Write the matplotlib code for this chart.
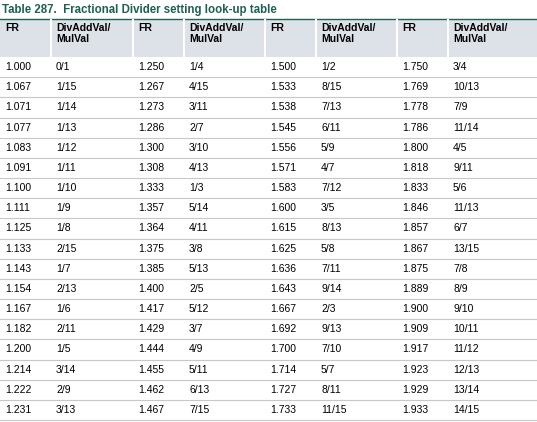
import matplotlib.pyplot as plt
from matplotlib.patches import Rectangle

plt.rcParams['font.family'] = ['Liberation Sans', 'DejaVu Sans']

title = "Table 287.  Fractional Divider setting look-up table"
headers = ["FR", "DivAddVal/\nMulVal"] * 4
fr1 = ["1.000", "1.067", "1.071", "1.077", "1.083", "1.091", "1.100", "1.111", "1.125", "1.133", "1.143", "1.154", "1.167", "1.182", "1.200", "1.214", "1.222", "1.231"]
dm1 = ["0/1", "1/15", "1/14", "1/13", "1/12", "1/11", "1/10", "1/9", "1/8", "2/15", "1/7", "2/13", "1/6", "2/11", "1/5", "3/14", "2/9", "3/13"]
fr2 = ["1.250", "1.267", "1.273", "1.286", "1.300", "1.308", "1.333", "1.357", "1.364", "1.375", "1.385", "1.400", "1.417", "1.429", "1.444", "1.455", "1.462", "1.467"]
dm2 = ["1/4", "4/15", "3/11", "2/7", "3/10", "4/13", "1/3", "5/14", "4/11", "3/8", "5/13", "2/5", "5/12", "3/7", "4/9", "5/11", "6/13", "7/15"]
fr3 = ["1.500", "1.533", "1.538", "1.545", "1.556", "1.571", "1.583", "1.600", "1.615", "1.625", "1.636", "1.643", "1.667", "1.692", "1.700", "1.714", "1.727", "1.733"]
dm3 = ["1/2", "8/15", "7/13", "6/11", "5/9", "4/7", "7/12", "3/5", "8/13", "5/8", "7/11", "9/14", "2/3", "9/13", "7/10", "5/7", "8/11", "11/15"]
fr4 = ["1.750", "1.769", "1.778", "1.786", "1.800", "1.818", "1.833", "1.846", "1.857", "1.867", "1.875", "1.889", "1.900", "1.909", "1.917", "1.923", "1.929", "1.933"]
dm4 = ["3/4", "10/13", "7/9", "11/14", "4/5", "9/11", "5/6", "11/13", "6/7", "13/15", "7/8", "8/9", "9/10", "10/11", "11/12", "12/13", "13/14", "14/15"]
columns = [fr1, dm1, fr2, dm2, fr3, dm3, fr4, dm4]

W, H = 537, 422
fig = plt.figure(figsize=(W / 100, H / 100), dpi=100)
ax = fig.add_axes([0, 0, 1, 1])
ax.set_xlim(0, W)
ax.set_ylim(H, 0)
ax.axis("off")

col_x = [2, 53, 135, 186, 267, 318, 399, 450, 534]
head_top, head_bot = 19, 57
row_h = (420 - head_bot) / len(fr1)

ax.text(2, 10, title, color="#1e6150", fontsize=8.3, fontweight="bold", va="center")
ax.plot([0, W], [head_top, head_top], color="#1e6150", lw=1)
ax.add_patch(Rectangle((0, head_top + 1), W, head_bot - head_top - 1, color="#dde1e8", lw=0))
for x in col_x[1:-1]:
    ax.plot([x - 2, x - 2], [head_top + 1, head_bot], color="white", lw=1.5)

for i, h in enumerate(headers):
    ax.text(col_x[i] + 3, head_top + 4, h, fontsize=7.5, fontweight="bold", va="top", linespacing=1.1)

for r in range(len(fr1)):
    y = head_bot + r * row_h
    for i, col in enumerate(columns):
        ax.text(col_x[i] + 3, y + row_h / 2, col[r], fontsize=7.5, va="center")
    ax.plot([0, W], [y + row_h, y + row_h], color="#c8c8c8", lw=0.8)

fig.savefig("out.png", dpi=100)
